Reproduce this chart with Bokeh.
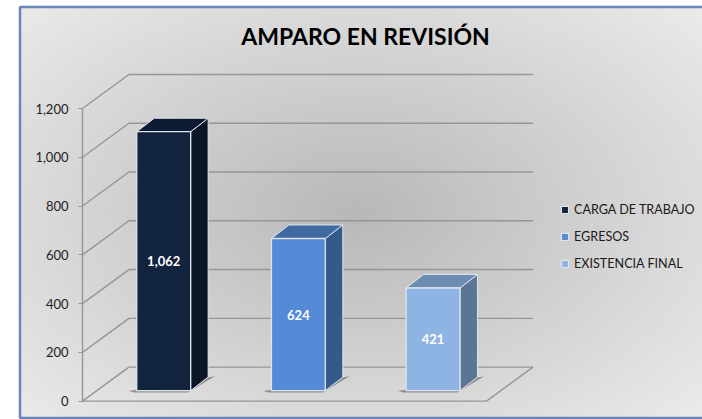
import numpy as np
from bokeh.plotting import figure
from bokeh.embed import file_html
from bokeh.resources import INLINE
from bokeh.models import (Range1d, LinearAxis, FixedTicker, NumeralTickFormatter,
                          Legend, LegendItem, Label, ColumnDataSource)
from bokeh.core.properties import value

# ---- data
categories = ["CARGA DE TRABAJO", "EGRESOS", "EXISTENCIA FINAL"]
values = [1062, 624, 421]
tick_values = [0, 200, 400, 600, 800, 1000, 1200]
title_text = "AMPARO EN REVISIÓN"

front_colors = ["#12233d", "#558ad6", "#8db4e3"]
top_colors = ["#0c1a33", "#3e6a9f", "#6c8cb1"]
side_colors = ["#0a1526", "#34598a", "#5b7595"]

# ---- layout
W, H = 702, 419
PX_X0, PX_Y0 = 82.0, 400.6      # chart origin in pixels
SLOT = 134.67                   # px per category slot
UNIT = 0.2438                   # px per value unit
BAR_W = 0.40
BAR_OFF = 0.603
BAR_BASE = 43.0
BAR_DX, BAR_DY = 0.13, 55.4
WALL_DX, WALL_DY = 0.345, 139.5
FONT = "Lato"

p = figure(width=W, height=H, output_backend="svg", toolbar_location=None,
           x_range=Range1d(-PX_X0 / SLOT, (W - PX_X0) / SLOT),
           y_range=Range1d(-(H - PX_Y0) / UNIT, PX_Y0 / UNIT),
           min_border=0, min_border_left=0, min_border_right=0,
           min_border_top=0, min_border_bottom=0, outline_line_color=None,
           x_axis_type=None, y_axis_type=None, margin=(0, 0, 0, 0))
p.grid.visible = False
p.background_fill_color = "white"
p.border_fill_color = "white"

def xd(px):
    return (px - PX_X0) / SLOT

def yd(py):
    return (PX_Y0 - py) / UNIT

# ---- chart area background with a soft central shade
L, T, R, B = 19.5, 6.5, 702.0, 417.5
nx, ny = 351, 206
gx, gy = np.meshgrid(np.linspace(L, R, nx), np.linspace(B, T, ny))
rad = np.sqrt(((gx - 355) / 345.0) ** 2 + ((gy - 212) / 215.0) ** 2) / 1.414
shade = np.clip(184 + rad * 52, 0, 255).astype(np.uint32)
img = (255 << 24) | (shade << 16) | (shade << 8) | shade
p.image_rgba(image=[img.astype(np.uint32)], x=xd(L), y=yd(B), dw=xd(R) - xd(L), dh=yd(T) - yd(B))
p.quad(left=xd(L), right=xd(R + 5), top=yd(T), bottom=yd(B), fill_color=None,
       line_color="#6a85ba", line_width=2.5)

# ---- walls and floor
n = len(categories)
grid_col = "#969696"
for t in tick_values:
    p.line([0, WALL_DX, n + WALL_DX], [t, t + WALL_DY, t + WALL_DY],
           line_color=grid_col, line_width=1.4)
p.line([0, n, n + WALL_DX], [0, 0, WALL_DY], line_color=grid_col, line_width=1.4)

# ---- value axis
ax = LinearAxis(fixed_location=0, ticker=FixedTicker(ticks=tick_values),
                formatter=NumeralTickFormatter(format="0,0"),
                bounds=(0, max(tick_values)),
                axis_line_color=grid_col, axis_line_width=1.4,
                major_tick_line_color=grid_col, major_tick_in=0, major_tick_out=4,
                minor_tick_line_color=None,
                major_label_text_font=FONT, major_label_text_font_size="13px",
                major_label_text_color="#222222", major_label_standoff=10)
p.add_layout(ax, "left")

# ---- 3D bars
items = []
for i, (cat, v) in enumerate(zip(categories, values)):
    x0 = i + BAR_OFF - BAR_W / 2
    x1 = i + BAR_OFF + BAR_W / 2
    y0, y1 = BAR_BASE, BAR_BASE + v
    # cast shadow on the floor
    p.patch([x0 - 0.06, x1 + BAR_DX + 0.05, x1 + BAR_DX + 0.01, x1 - 0.02, x0 - 0.02],
            [y0 - 2, y0 + BAR_DY + 4, y0 + BAR_DY - 10, y0 - 8, y0 - 8],
            fill_color="#555555", fill_alpha=0.55, line_color=None)
    edge = "#dfe4ec"
    p.patch([x1, x1 + BAR_DX, x1 + BAR_DX, x1], [y0, y0 + BAR_DY, y1 + BAR_DY, y1],
            fill_color=side_colors[i], line_color=edge, line_width=1)
    p.patch([x0, x0 + BAR_DX, x1 + BAR_DX, x1], [y1, y1 + BAR_DY, y1 + BAR_DY, y1],
            fill_color=top_colors[i], line_color=edge, line_width=1)
    front = p.quad(left=x0, right=x1, bottom=y0, top=y1, fill_color=front_colors[i],
                   line_color=edge, line_width=1.3)
    items.append(LegendItem(label=cat, renderers=[front]))

# ---- data labels
src = ColumnDataSource(dict(x=[i + BAR_OFF for i in range(n)],
                            y=[BAR_BASE + v / 2 for v in values],
                            t=[f"{v:,}" for v in values]))
p.text("x", "y", text="t", source=src, text_align="center", text_baseline="middle",
       text_color="white", text_font=value(FONT), text_font_style="bold", text_font_size="13px")

# ---- title
p.add_layout(Label(x=xd(365), y=yd(35), text=title_text, text_align="center",
                   text_baseline="middle", text_font=FONT, text_font_style="bold",
                   text_font_size="23px", text_color="#000000"))

# ---- legend
leg = Legend(items=items, location=(560, H - 271), orientation="vertical",
             background_fill_alpha=0, border_line_color=None,
             glyph_width=9, glyph_height=9, spacing=12, padding=0, margin=0,
             label_text_font=FONT, label_text_font_size="12.6px",
             label_text_color="#1a1a1a", label_standoff=5, label_height=12)
p.add_layout(leg, "center")

open("out.html", "w").write(file_html(p, INLINE))
